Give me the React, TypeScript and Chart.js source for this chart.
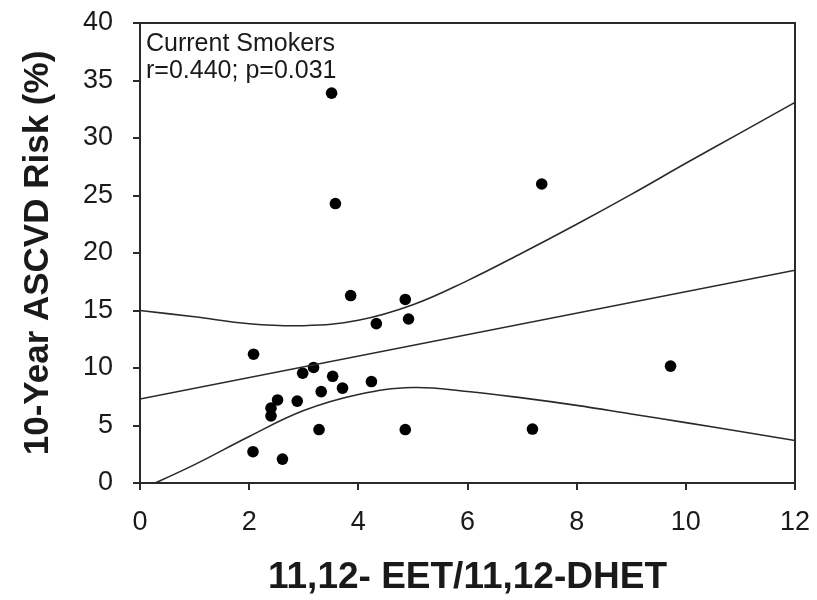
import { useEffect, useRef } from 'react';
import { Chart, registerables } from 'chart.js';

Chart.register(...registerables);

// Scatter points (11,12-EET/11,12-DHET vs 10-year ASCVD risk)
const pointX = [3.51, 3.58, 3.86, 4.86, 4.33, 4.92, 2.08, 3.18, 2.98, 3.53, 4.24, 3.71, 3.32, 2.52, 2.88, 2.40, 2.40, 3.28, 4.86, 2.07, 2.61, 7.36, 9.72, 7.19];
const pointY = [33.9, 24.3, 16.3, 15.96, 13.86, 14.26, 11.2, 10.05, 9.55, 9.28, 8.82, 8.25, 7.95, 7.22, 7.12, 6.51, 5.84, 4.65, 4.65, 2.72, 2.08, 26.0, 10.16, 4.69];

// Regression line
const fitX = [0, 12];
const fitY = [7.3, 18.5];

// 95% confidence band read at integer x
const bandX = [0, 1, 2, 3, 4, 5, 6, 7, 8, 9, 10, 11, 12];
const upperY = [15.0, 14.45, 13.85, 13.68, 14.15, 15.5, 17.6, 20.0, 22.5, 25.1, 27.8, 30.45, 33.1];
const lowerY = [-0.6, 1.6, 4.05, 6.3, 7.7, 8.3, 7.95, 7.4, 6.75, 6.0, 5.25, 4.48, 3.7];

const xTickValues = [0, 2, 4, 6, 8, 10, 12];
const yTickValues = [0, 5, 10, 15, 20, 25, 30, 35, 40];

const noteLines = ['Current Smokers', 'r=0.440; p=0.031'];
const xTitle = '11,12- EET/11,12-DHET';
const yTitle = '10-Year ASCVD Risk (%)';

const INK = '#1a1a1a';
const LINE = '#2a2a2a';
const FONT = "'Liberation Sans', Arial, sans-serif";

const toPts = (xs: number[], ys: number[]) => xs.map((x, i) => ({ x, y: ys[i] }));

const framePlugin = {
  id: 'frameAndNote',
  afterDraw(chart: any) {
    const { ctx, chartArea } = chart;
    ctx.save();
    ctx.strokeStyle = LINE;
    ctx.lineWidth = 2;
    ctx.beginPath();
    ctx.moveTo(chartArea.left, chartArea.top);
    ctx.lineTo(chartArea.right, chartArea.top);
    ctx.lineTo(chartArea.right, chartArea.bottom);
    ctx.stroke();
    ctx.fillStyle = INK;
    ctx.font = `25px ${FONT}`;
    ctx.textAlign = 'left';
    ctx.textBaseline = 'alphabetic';
    noteLines.forEach((t, i) => {
      ctx.fillText(t, chartArea.left + 6, chartArea.top + 28 + i * 27);
    });
    ctx.restore();
  },
};

export default function App() {
  const ref = useRef<HTMLCanvasElement | null>(null);

  useEffect(() => {
    if (!ref.current) return;
    const chart = new Chart(ref.current, {
      type: 'scatter',
      data: {
        datasets: [
          {
            label: 'Upper CI',
            data: toPts(bandX, upperY),
            showLine: true,
            borderColor: LINE,
            borderWidth: 1.6,
            pointRadius: 0,
            tension: 0.4,
            fill: false,
          },
          {
            label: 'Lower CI',
            data: toPts(bandX, lowerY),
            showLine: true,
            borderColor: LINE,
            borderWidth: 1.6,
            pointRadius: 0,
            tension: 0.4,
            fill: false,
          },
          {
            label: 'Fit',
            data: toPts(fitX, fitY),
            showLine: true,
            borderColor: LINE,
            borderWidth: 1.6,
            pointRadius: 0,
            fill: false,
          },
          {
            label: 'Subjects',
            data: toPts(pointX, pointY),
            showLine: false,
            pointRadius: 5.8,
            pointBackgroundColor: '#000',
            pointBorderColor: '#000',
            pointBorderWidth: 0,
          },
        ],
      },
      options: {
        animation: false,
        responsive: true,
        maintainAspectRatio: false,
        layout: { padding: { top: 23, right: 22, left: 0, bottom: 0 } },
        plugins: {
          legend: { display: false },
          tooltip: { enabled: false },
        },
        scales: {
          x: {
            type: 'linear',
            min: 0,
            max: 12,
            afterFit: (s: any) => {
              s.height = 117;
              s.paddingLeft = 0;
              s.paddingRight = 0;
            },
            afterBuildTicks: (s: any) => {
              s.ticks = xTickValues.map((v) => ({ value: v }));
            },
            ticks: {
              autoSkip: false,
              maxRotation: 0,
              padding: 16,
              color: INK,
              font: { family: FONT, size: 27 },
            },
            grid: { drawOnChartArea: false, drawTicks: true, tickLength: 7, color: LINE, lineWidth: 2 },
            border: { display: true, color: LINE, width: 2 },
            title: {
              display: true,
              text: xTitle,
              color: INK,
              font: { family: FONT, size: 37, weight: 'bold' },
              padding: { top: 0, bottom: 0 },
            },
          },
          y: {
            type: 'linear',
            min: 0,
            max: 40,
            afterFit: (s: any) => {
              s.width = 140;
              s.paddingTop = 0;
              s.paddingBottom = 0;
            },
            afterBuildTicks: (s: any) => {
              s.ticks = yTickValues.map((v) => ({ value: v }));
            },
            ticks: {
              autoSkip: false,
              padding: 20,
              color: INK,
              font: { family: FONT, size: 27 },
            },
            grid: { drawOnChartArea: false, drawTicks: true, tickLength: 7, color: LINE, lineWidth: 2 },
            border: { display: true, color: LINE, width: 2 },
            title: {
              display: true,
              text: yTitle,
              color: INK,
              font: { family: FONT, size: 35, weight: 'bold' },
              padding: { top: 17, bottom: 0 },
            },
          },
        },
      },
      plugins: [framePlugin],
    } as any);
    return () => chart.destroy();
  }, []);

  return (
    <div style={{ position: 'absolute', left: 0, top: 0, width: 817, height: 600, background: '#fff' }}>
      <canvas ref={ref} />
    </div>
  );
}
